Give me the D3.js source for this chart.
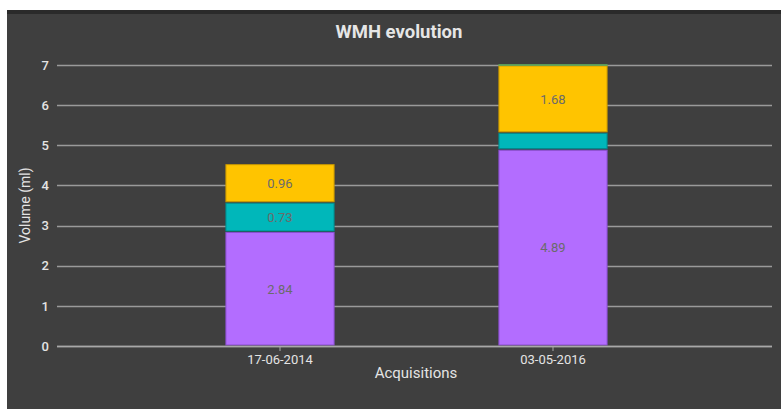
<!DOCTYPE html>
<html>
<head>
<meta charset="utf-8">
<script src="https://cdn.jsdelivr.net/npm/d3@7"></script>
<style>
  html, body { margin: 0; padding: 0; background: #ffffff; }
  svg { display: block; font-family: Roboto, "Noto Sans", sans-serif; }
</style>
</head>
<body>
<svg id="chart" width="781" height="409"></svg>
<script>
// Acquisition dates (x categories)
const categories = ["17-06-2014", "03-05-2016"];
// Stacked WMH volume components, bottom to top (ml)
const seriesNames = ["Periventricular", "Deep", "Juxtacortical", "Infratentorial"];
const periventricular = [2.84, 4.89];
const deep = [0.73, 0.42];
const juxtacortical = [0.96, 1.68];
const infratentorial = [0.00, 0.03];
// Values printed inside segments (null = not shown)
const labelPeri = ["2.84", "4.89"];
const labelDeep = ["0.73", null];
const labelJuxta = ["0.96", "1.68"];
const labelInfra = [null, null];
const yTicks = [0, 1, 2, 3, 4, 5, 6, 7];

const fills = ["#b36dff", "#00b7ba", "#ffc400", "#7ccf7a"];
const strokes = ["#8a4fd0", "#00888a", "#c79700", "#5aa158"];

const svg = d3.select("#chart");
const W = 781, H = 409;

// Panel background
svg.append("rect").attr("x", 7).attr("y", 10).attr("width", W - 7).attr("height", H - 10).attr("fill", "#3f3f3f");
svg.append("rect").attr("x", 7).attr("y", 10).attr("width", W - 7).attr("height", 4).attr("fill", "#2a2a2a");

const plot = { left: 57, right: 772, top: 65, bottom: 346 };

const y = d3.scaleLinear().domain([0, 7]).range([plot.bottom, plot.top]);
const x = d3.scaleBand().domain(categories).range([143.5, 689.5]).paddingInner(0.6).paddingOuter(0.3);

// Gridlines
svg.append("g").selectAll("line").data(yTicks).join("line")
  .attr("x1", plot.left).attr("x2", plot.right)
  .attr("y1", d => Math.round(y(d)) + 0.5).attr("y2", d => Math.round(y(d)) + 0.5)
  .attr("stroke", "#9a9a9a").attr("stroke-width", 1.3);

// Y axis labels
const yAxis = d3.axisLeft(y).tickValues(yTicks).tickFormat(d3.format("d")).tickSize(0).tickPadding(8);
const gy = svg.append("g").attr("transform", `translate(${plot.left},0)`).call(yAxis);
gy.select(".domain").remove();
gy.selectAll("text").attr("fill", "#e4e4e4").attr("font-size", 13).attr("font-weight", 500)
  .attr("font-family", "Roboto, sans-serif");

// Stack
const table = categories.map((c, i) => ({
  cat: c,
  Periventricular: periventricular[i],
  Deep: deep[i],
  Juxtacortical: juxtacortical[i],
  Infratentorial: infratentorial[i]
}));
const labels = [labelPeri, labelDeep, labelJuxta, labelInfra];
const stacked = d3.stack().keys(seriesNames)(table);

const layers = svg.append("g").selectAll("g").data(stacked).join("g");
layers.each(function (layer, li) {
  const g = d3.select(this);
  layer.forEach((d, i) => {
    if (d[1] - d[0] <= 0) return;
    const x0 = x(d.data.cat);
    const top = y(d[1]);
    const bot = y(d[0]);
    g.append("rect")
      .attr("x", x0 + 0.5)
      .attr("y", top + 0.5)
      .attr("width", x.bandwidth() - 1)
      .attr("height", Math.max(0.6, bot - top - 1.5))
      .attr("fill", fills[li])
      .attr("stroke", strokes[li])
      .attr("stroke-width", 1);
    const lab = labels[li][i];
    if (lab) {
      g.append("text")
        .attr("x", x0 + x.bandwidth() / 2)
        .attr("y", (top + bot) / 2)
        .attr("dy", "0.35em")
        .attr("text-anchor", "middle")
        .attr("font-size", 13)
        .attr("fill", "#6b6b6b")
        .text(lab);
    }
  });
});

// X axis
const gx = svg.append("g").attr("transform", `translate(0,${plot.bottom})`);
gx.append("line").attr("x1", plot.left).attr("x2", plot.right).attr("y1", 0.5).attr("y2", 0.5)
  .attr("stroke", "#a8a8a8").attr("stroke-width", 1.3);
const xt = gx.selectAll("g.tick").data(categories).join("g").attr("class", "tick")
  .attr("transform", d => `translate(${x(d) + x.bandwidth() / 2},0)`);
xt.append("line").attr("y1", 0).attr("y2", 5).attr("stroke", "#a8a8a8");
xt.append("text").attr("y", 18).attr("text-anchor", "middle").attr("font-size", 13)
  .attr("fill", "#e4e4e4").text(d => d);

// Titles
svg.append("text").attr("x", 399).attr("y", 38).attr("text-anchor", "middle")
  .attr("font-size", 18.5).attr("font-weight", "bold").attr("fill", "#e6e6e6").text("WMH evolution");
svg.append("text").attr("x", 416).attr("y", 378).attr("text-anchor", "middle")
  .attr("font-size", 15).attr("fill", "#e4e4e4").text("Acquisitions");
svg.append("text").attr("transform", `translate(30,${(plot.top + plot.bottom) / 2}) rotate(-90)`)
  .attr("text-anchor", "middle").attr("font-size", 14).attr("fill", "#e4e4e4").text("Volume (ml)");
</script>
</body>
</html>
